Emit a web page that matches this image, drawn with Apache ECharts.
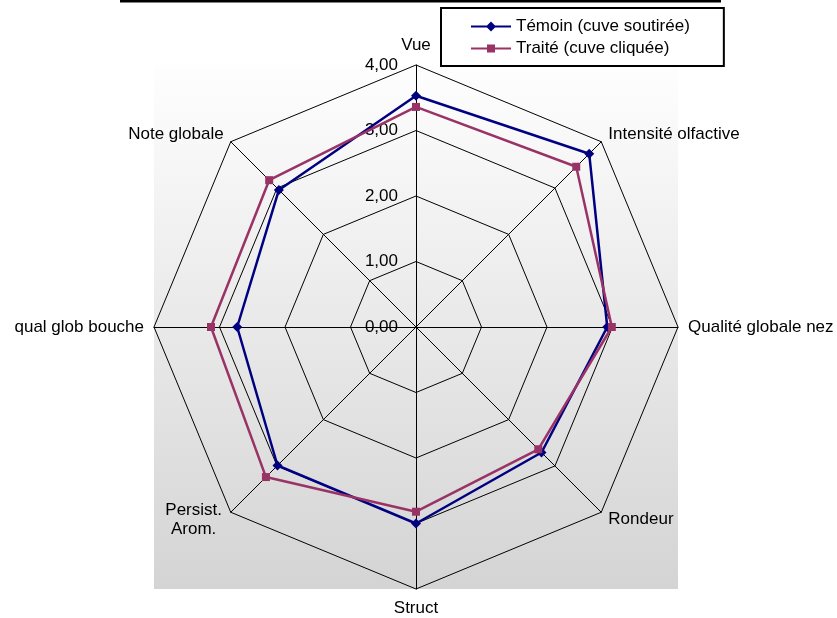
<!DOCTYPE html>
<html>
<head>
<meta charset="utf-8">
<script src="https://cdn.jsdelivr.net/npm/echarts@6/dist/echarts.min.js"></script>
<style>
html,body{margin:0;padding:0;background:#fff;}
#chart{width:837px;height:618px;}
</style>
</head>
<body>
<div id="chart"></div>
<script>
// Categories in clockwise order starting from the top
const categories = ['Vue', 'Intensité olfactive', 'Qualité globale nez', 'Rondeur', 'Struct', 'Persist.\nArom.', 'qual glob bouche', 'Note globale'];
const temoin = [3.53, 3.74, 2.92, 2.71, 3.00, 2.99, 2.73, 2.96];
const traite = [3.36, 3.46, 2.99, 2.64, 2.82, 3.24, 3.13, 3.17];
const seriesNames = ['Témoin (cuve soutirée)', 'Traité (cuve cliquée)'];
const axisMax = 4;
const tickLabels = ['0,00', '1,00', '2,00', '3,00', '4,00'];

// ECharts radar places indicators counter-clockwise; reorder to keep the clockwise layout
const order = [0, 7, 6, 5, 4, 3, 2, 1];
const reorder = arr => order.map(i => arr[i]);

const FONT = '"Liberation Sans", Arial, sans-serif';
const FS = 17;
const CX = 416, CY = 327, R = 262;

const chart = echarts.init(document.getElementById('chart'), null, {renderer: 'canvas'});
const indicator = reorder(categories).map((n, i) => {
  const o = {name: n, max: axisMax, min: 0};
  if (i === 0) o.axisLabel = {show: true};
  return o;
});

// legend icons: line with marker (bounding box 40 x 10)
const iconDiamond = 'path://M0,4H40V6H0Z M20,0L25,5L20,10L15,5Z';
const iconSquare = 'path://M0,4H40V6H0Z M16,1H24V9H16Z M0,0H0.01V0.01H0Z M0,9.99H0.01V10H0Z';

chart.setOption({
  animation: false,
  backgroundColor: '#ffffff',
  textStyle: {fontFamily: FONT},
  graphic: [
    {
      type: 'rect', z: -10, silent: true,
      shape: {x: CX - R, y: CY - R, width: 2 * R, height: 2 * R},
      style: {
        fill: new echarts.graphic.LinearGradient(0, 0, 0, 1, [
          {offset: 0, color: '#fefefe'},
          {offset: 1, color: '#d4d4d4'}
        ])
      }
    },
    {
      type: 'line', silent: true,
      shape: {x1: 120, y1: 1, x2: 721, y2: 1},
      style: {stroke: '#000', lineWidth: 3}
    }
  ],
  legend: {
    left: 441, top: 8,
    orient: 'vertical',
    itemWidth: 40, itemHeight: 10, itemGap: 5,
    padding: [10, 34, 9, 30],
    borderColor: '#000', borderWidth: 2,
    textStyle: {fontSize: FS, color: '#000', fontFamily: FONT},
    data: [
      {name: seriesNames[0], icon: iconDiamond},
      {name: seriesNames[1], icon: iconSquare}
    ]
  },
  radar: {
    center: [CX, CY],
    radius: R,
    shape: 'polygon',
    splitNumber: 4,
    nameGap: 10,
    axisName: {
      color: '#000', fontSize: FS, fontFamily: FONT, lineHeight: 19,
      formatter: (name) => name.indexOf('\n') >= 0
        ? name.split('\n').map(l => '{c|' + l + '}').join('\n')
        : name,
      rich: {c: {width: 60, align: 'center', fontSize: FS, fontFamily: FONT, color: '#000', lineHeight: 19}}
    },
    axisLine: {lineStyle: {color: '#000', width: 1}},
    splitLine: {lineStyle: {color: '#000', width: 1}},
    splitArea: {show: false},
    axisTick: {show: false},
    axisLabel: {
      show: false, color: '#000', fontSize: FS, fontFamily: FONT, margin: 18,
      formatter: (v) => tickLabels[Math.round(v)] !== undefined ? tickLabels[Math.round(v)] : ''
    },
    indicator: indicator
  },
  series: [{
    type: 'radar',
    data: [
      {
        name: seriesNames[0], value: reorder(temoin),
        symbol: 'diamond', symbolSize: 10,
        lineStyle: {color: '#000080', width: 2.5},
        itemStyle: {color: '#000080'}
      },
      {
        name: seriesNames[1], value: reorder(traite),
        symbol: 'rect', symbolSize: 8,
        lineStyle: {color: '#993366', width: 2.5},
        itemStyle: {color: '#993366'}
      }
    ]
  }]
});
</script>
</body>
</html>
